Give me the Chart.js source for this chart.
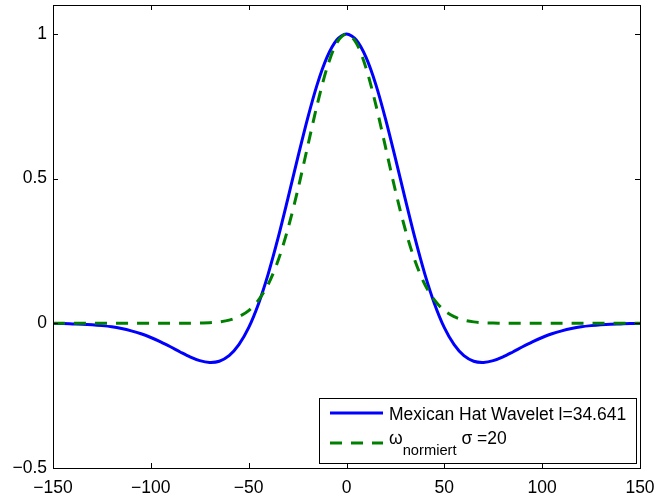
<!DOCTYPE html>
<html>
<head>
<meta charset="utf-8">
<script src="https://cdn.jsdelivr.net/npm/chart.js@4"></script>
<style>
  html, body { margin: 0; padding: 0; background: #fff; }
</style>
</head>
<body>
<canvas id="waveletChart" width="654" height="495"></canvas>
<script>
// x positions of the samples (read every 5 units off the plot)
const xValues = [
  -150, -145, -140, -135, -130, -125, -120, -115, -110, -105,
  -100, -95, -90, -85, -80, -75, -70, -65, -60, -55,
  -50, -45, -40, -35, -30, -25, -20, -15, -10, -5,
  0,
  5, 10, 15, 20, 25, 30, 35, 40, 45, 50,
  55, 60, 65, 70, 75, 80, 85, 90, 95, 100,
  105, 110, 115, 120, 125, 130, 135, 140, 145, 150
];

// blue solid curve: Mexican Hat Wavelet
const hatValues = [
  -0.001, -0.001, -0.002, -0.003, -0.005, -0.008, -0.012, -0.018, -0.026, -0.036,
  -0.049, -0.064, -0.081, -0.099, -0.116, -0.129, -0.135, -0.131, -0.112, -0.074,
  -0.015, 0.067, 0.171, 0.294, 0.430, 0.570, 0.705, 0.825, 0.919, 0.979,
  1.000,
  0.979, 0.919, 0.825, 0.705, 0.570, 0.430, 0.294, 0.171, 0.067, -0.015,
  -0.074, -0.112, -0.131, -0.135, -0.129, -0.116, -0.099, -0.081, -0.064, -0.049,
  -0.036, -0.026, -0.018, -0.012, -0.008, -0.005, -0.003, -0.002, -0.001, -0.001
];

// green dashed curve: normalised weight, sigma = 20
const gaussValues = [
  0, 0, 0, 0, 0, 0, 0, 0, 0, 0,
  0, 0, 0, 0, 0, 0.001, 0.002, 0.005, 0.011, 0.023,
  0.044, 0.080, 0.135, 0.216, 0.325, 0.458, 0.607, 0.755, 0.882, 0.969,
  1.000,
  0.969, 0.882, 0.755, 0.607, 0.458, 0.325, 0.216, 0.135, 0.080, 0.044,
  0.023, 0.011, 0.005, 0.002, 0.001, 0, 0, 0, 0, 0,
  0, 0, 0, 0, 0, 0, 0, 0, 0, 0
];

const xTicks = [-150, -100, -50, 0, 50, 100, 150];
const yTicks = [-0.5, 0, 0.5, 1];

const hatLabel = 'Mexican Hat Wavelet l=34.641';
const gaussLabel = ['\u03C9', 'normiert', ' \u03C3 =20']; // base, subscript, rest

const FONT = '"Liberation Sans", Arial, Helvetica, sans-serif';
const FONT_SIZE = 17.5;

function toPoints(ys) {
  return xValues.map((x, i) => ({ x: x, y: ys[i] }));
}

function minusSign(v) {
  return String(v).replace('-', '\u2212');
}

// MATLAB-like box with ticks pointing inwards on all four sides
const boxTicks = {
  id: 'boxTicks',
  afterDatasetsDraw(chart) {
    const { ctx, chartArea: a, scales } = chart;
    const len = 5;
    ctx.save();
    ctx.strokeStyle = '#000';
    ctx.lineWidth = 1;
    ctx.beginPath();
    scales.x.ticks.forEach(t => {
      const px = Math.round(scales.x.getPixelForValue(t.value)) + 0.5;
      ctx.moveTo(px, a.bottom); ctx.lineTo(px, a.bottom - len);
      ctx.moveTo(px, a.top); ctx.lineTo(px, a.top + len);
    });
    scales.y.ticks.forEach(t => {
      const py = Math.round(scales.y.getPixelForValue(t.value)) + 0.5;
      ctx.moveTo(a.left, py); ctx.lineTo(a.left + len, py);
      ctx.moveTo(a.right, py); ctx.lineTo(a.right - len, py);
    });
    ctx.stroke();
    ctx.strokeRect(Math.round(a.left) + 0.5, Math.round(a.top) + 0.5,
      Math.round(a.right - a.left), Math.round(a.bottom - a.top));
    ctx.restore();
  }
};

// legend box in the lower right corner (needs a subscript, so drawn by hand)
const cornerLegend = {
  id: 'cornerLegend',
  afterDraw(chart) {
    const { ctx, chartArea: a } = chart;
    const ds = chart.data.datasets;
    ctx.save();
    ctx.font = FONT_SIZE + 'px ' + FONT;
    const textW = ctx.measureText(hatLabel).width;
    const boxW = 11 + 53 + 6 + textW + 10;
    const boxH = 65;
    const right = Math.round(a.right) - 4;
    const bottom = Math.round(a.bottom) - 5;
    const left = Math.round(right - boxW);
    const top = Math.round(bottom - boxH);

    ctx.fillStyle = '#fff';
    ctx.fillRect(left, top, right - left, bottom - top);
    ctx.strokeStyle = '#000';
    ctx.lineWidth = 1;
    ctx.strokeRect(left + 0.5, top + 0.5, right - left, bottom - top);

    const rows = [top + 15, top + 45];
    ds.forEach((d, i) => {
      const y = rows[i];
      ctx.strokeStyle = d.borderColor;
      ctx.lineWidth = d.borderWidth;
      ctx.setLineDash(d.borderDash || []);
      ctx.beginPath();
      ctx.moveTo(left + 11, y);
      ctx.lineTo(left + 64, y);
      ctx.stroke();
    });
    ctx.setLineDash([]);

    ctx.fillStyle = '#000';
    ctx.textBaseline = 'alphabetic';
    const tx = left + 70;
    ctx.fillText(hatLabel, tx, rows[0] + 7);

    let cx = tx;
    ctx.fillText(gaussLabel[0], cx, rows[1] + 1);
    cx += ctx.measureText(gaussLabel[0]).width;
    ctx.font = '14.7px ' + FONT;
    ctx.fillText(gaussLabel[1], cx, rows[1] + 12);
    cx += ctx.measureText(gaussLabel[1]).width;
    ctx.font = FONT_SIZE + 'px ' + FONT;
    ctx.fillText(gaussLabel[2], cx, rows[1] + 1);
    ctx.restore();
  }
};

new Chart(document.getElementById('waveletChart'), {
  type: 'line',
  data: {
    datasets: [
      {
        label: hatLabel,
        data: toPoints(hatValues),
        borderColor: '#0000ff',
        borderWidth: 3,
        pointRadius: 0,
        tension: 0.3,
        fill: false,
        order: 2
      },
      {
        label: gaussLabel.join(''),
        data: toPoints(gaussValues),
        borderColor: '#008000',
        borderWidth: 3,
        borderDash: [12, 9],
        pointRadius: 0,
        tension: 0.3,
        fill: false,
        order: 1
      }
    ]
  },
  options: {
    responsive: false,
    animation: false,
    devicePixelRatio: 1,
    layout: { padding: { left: 0, top: 5, right: 14, bottom: 0 } },
    plugins: {
      legend: { display: false },
      tooltip: { enabled: false }
    },
    scales: {
      x: {
        type: 'linear',
        min: -150,
        max: 150,
        afterBuildTicks: s => { s.ticks = xTicks.map(v => ({ value: v })); },
        afterFit: s => { s.height = 27; s.paddingLeft = 0; s.paddingRight = 0; },
        grid: { display: false, drawTicks: false },
        border: { display: false },
        ticks: {
          color: '#000',
          padding: 10,
          maxRotation: 0,
          font: { family: FONT, size: FONT_SIZE },
          callback: v => minusSign(v)
        }
      },
      y: {
        type: 'linear',
        min: -0.5,
        max: 1.1,
        afterBuildTicks: s => { s.ticks = yTicks.map(v => ({ value: v })); },
        afterFit: s => { s.width = 53; s.paddingTop = 0; s.paddingBottom = 0; },
        grid: { display: false, drawTicks: false },
        border: { display: false },
        ticks: {
          color: '#000',
          padding: 6,
          font: { family: FONT, size: FONT_SIZE },
          callback: v => minusSign(v)
        }
      }
    }
  },
  plugins: [boxTicks, cornerLegend]
});
</script>
</body>
</html>
